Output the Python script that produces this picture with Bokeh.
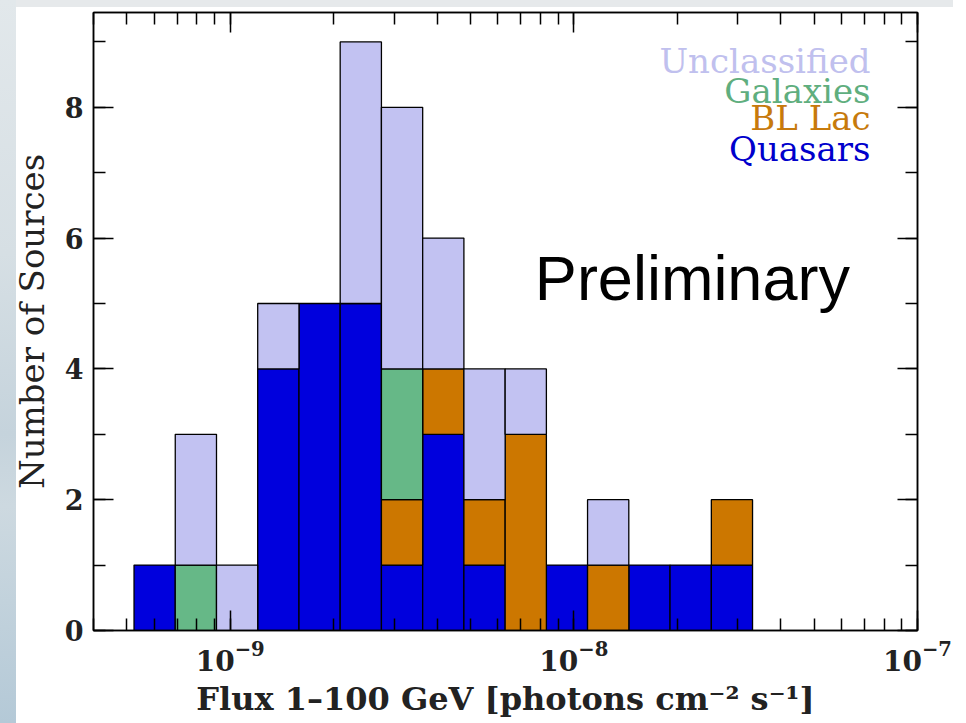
from bokeh.plotting import figure
from bokeh.models import (Range1d, LogAxis, LinearAxis, SingleIntervalTicker,
                          LogTicker, Label, ColumnDataSource)
from bokeh.embed import file_html
from bokeh.resources import INLINE

# ---- data ----
flux_edges = [5.248e-10, 6.918e-10, 9.120e-10, 1.202e-9, 1.585e-9, 2.089e-9,
              2.754e-9, 3.631e-9, 4.786e-9, 6.310e-9, 8.318e-9, 1.096e-8,
              1.445e-8, 1.905e-8, 2.512e-8, 3.311e-8]
quasars      = [1, 0, 0, 4, 5, 5, 1, 3, 1, 0, 1, 0, 1, 1, 1]
bl_lac       = [0, 0, 0, 0, 0, 0, 1, 1, 1, 3, 0, 1, 0, 0, 1]
galaxies     = [0, 1, 0, 0, 0, 0, 2, 0, 0, 0, 0, 0, 0, 0, 0]
unclassified = [0, 2, 1, 1, 0, 4, 4, 2, 2, 1, 0, 1, 0, 0, 0]
class_names  = ["Quasars", "BL Lac", "Galaxies", "Unclassified"]
class_colors = ["#0000dd", "#cc7700", "#66b887", "#c2c2f2"]
text_colors  = ["#0000cc", "#c77a0c", "#5fae7e", "#c0c0ee"]
y_range_max = 9.45
x_range = (4e-10, 1e-7)

series = [quasars, bl_lac, galaxies, unclassified]

# slide background behind the chart (left gradient strip, thin top band)
page_background = ("linear-gradient(to bottom, #e2e8eb 0%, #d6dfe4 35%, #c5d3dc 60%, "
                   "#cdd9e0 70%, #b4c9d7 100%) 0 0 / 16px 100% no-repeat, "
                   "linear-gradient(#e6e9eb, #e6e9eb) 16px 0 / 937px 7px no-repeat, "
                   "#ffffff")

p = figure(x_axis_type="log", x_range=Range1d(*x_range),
           y_range=Range1d(0, y_range_max),
           frame_width=824, frame_height=618,
           min_border_left=93, min_border_top=12, min_border_right=45,
           min_border_bottom=93,
           output_backend="svg", toolbar_location=None,
           styles={"background": page_background})
p.background_fill_color = "white"
p.border_fill_color = None
p.outline_line_color = "black"
p.outline_line_width = 1.5
p.xgrid.grid_line_color = None
p.ygrid.grid_line_color = None

# stacked quads
left, right, bottom, top, color = [], [], [], [], []
base = [0] * len(quasars)
for vals, col in zip(series, class_colors):
    for i, v in enumerate(vals):
        if v > 0:
            left.append(flux_edges[i])
            right.append(flux_edges[i + 1])
            bottom.append(base[i])
            top.append(base[i] + v)
            color.append(col)
        base[i] += v
src = ColumnDataSource(dict(left=left, right=right, bottom=bottom, top=top, color=color))
p.quad(left="left", right="right", bottom="bottom", top="top", source=src,
       fill_color="color", line_color="black", line_width=1.3)

serif = "DejaVu Serif"

# axes
def style_axis(ax, show_labels):
    ax.major_tick_in = 20
    ax.major_tick_out = 0
    ax.minor_tick_in = 12
    ax.minor_tick_out = 0
    ax.axis_line_width = 1.5
    ax.major_tick_line_width = 1.5
    ax.minor_tick_line_width = 1.5
    ax.axis_line_color = "black"
    ax.major_tick_line_color = "black"
    ax.minor_tick_line_color = "black"
    if show_labels:
        ax.major_label_text_font = serif
        ax.major_label_text_font_style = "bold"
        ax.major_label_text_color = "#222222"
    else:
        ax.major_label_text_font_size = "1px"
        ax.major_label_text_alpha = 0
        ax.major_label_standoff = 0

xa = p.xaxis[0]
style_axis(xa, True)
xa.ticker = LogTicker(num_minor_ticks=10)
xa.major_label_text_font_size = "28px"
xa.major_label_standoff = 10
xa.axis_label = "Flux 1\u2013100 GeV [photons cm\u207b\u00b2 s\u207b\u00b9]"
xa.axis_label_text_font = serif
xa.axis_label_text_font_style = "bold"
xa.axis_label_text_font_size = "32px"
xa.axis_label_text_color = "#222222"
xa.axis_label_standoff = 6

ya = p.yaxis[0]
style_axis(ya, True)
ya.ticker = SingleIntervalTicker(interval=2, num_minor_ticks=2)
ya.major_label_text_font_size = "27px"
ya.major_label_standoff = 10
ya.axis_label = "Number of Sources"
ya.axis_label_text_font = serif
ya.axis_label_text_font_style = "normal"
ya.axis_label_text_font_size = "34px"
ya.axis_label_text_color = "#222222"
ya.axis_label_standoff = 10

top_ax = LogAxis(ticker=LogTicker(num_minor_ticks=10))
style_axis(top_ax, False)
p.add_layout(top_ax, "above")
right_ax = LinearAxis(ticker=SingleIntervalTicker(interval=2, num_minor_ticks=2))
style_axis(right_ax, False)
p.add_layout(right_ax, "right")

# legend as coloured text
legend_x = 7.3e-8
legend_y = [7.37, 7.83, 8.25, 8.71]
for name, col, yy in zip(class_names, text_colors, legend_y):
    p.add_layout(Label(x=legend_x, y=yy, text=name, text_align="right",
                       text_baseline="alphabetic", text_font=serif,
                       text_font_size="34px", text_color=col))

p.add_layout(Label(x=7.7e-9, y=5.39, text="Preliminary", text_align="left",
                   text_baseline="alphabetic", text_font="Liberation Sans",
                   text_font_size="63px", text_color="black"))

open("out.html", "w").write(file_html(p, INLINE))
